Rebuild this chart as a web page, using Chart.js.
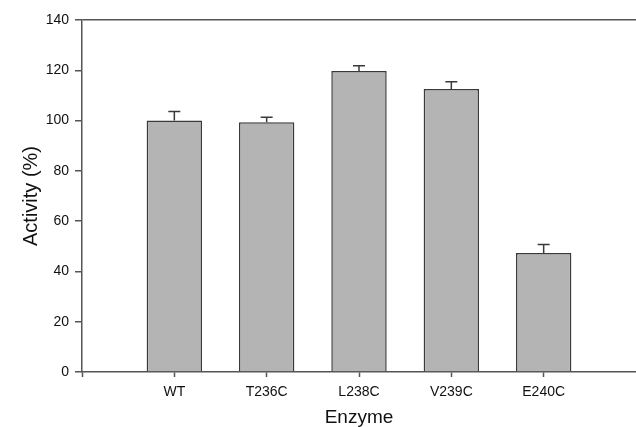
<!DOCTYPE html>
<html>
<head>
<meta charset="utf-8">
<script src="https://cdn.jsdelivr.net/npm/chart.js@4"></script>
<style>
    body { margin: 0; background: #fff; }
    #wrap { width: 636px; height: 427px; position: relative; }
</style>
</head>
<body>
<div id="wrap"><canvas id="activityChart"></canvas></div>
<script>
// Enzyme activity values
const enzymes = ['WT', 'T236C', 'L238C', 'V239C', 'E240C'];
const activity = [100, 99.3, 119.7, 112.6, 47.3];
const activityErr = [3.6, 2.0, 2.1, 2.8, 3.4];
const yTicks = [0, 20, 40, 60, 80, 100, 120, 140];

// empty slot either side so the bars sit one step in from the frame
const labels = [''].concat(enzymes, ['']);
const values = [null].concat(activity, [null]);
const errors = [null].concat(activityErr, [null]);

const axisColor = '#555';
const fontFamily = '"Liberation Sans", Arial, sans-serif';

// simple upper error bars, drawn through the chart's scales
const errorBars = {
    id: 'errorBars',
    afterDatasetsDraw(chart) {
        const ctx = chart.ctx;
        const xs = chart.scales.x;
        const ys = chart.scales.y;
        ctx.save();
        ctx.strokeStyle = '#3a3a3a';
        ctx.lineWidth = 1.5;
        values.forEach((v, i) => {
            if (v === null) return;
            const x = xs.getPixelForValue(i);
            const yBar = ys.getPixelForValue(v);
            const yTop = ys.getPixelForValue(v + errors[i]);
            ctx.beginPath();
            ctx.moveTo(x, yBar);
            ctx.lineTo(x, yTop);
            ctx.moveTo(x - 6, yTop);
            ctx.lineTo(x + 6, yTop);
            ctx.stroke();
        });
        ctx.restore();
    }
};

new Chart(document.getElementById('activityChart').getContext('2d'), {
    type: 'bar',
    data: {
        labels: labels,
        datasets: [{
            label: 'Activity',
            data: values,
            backgroundColor: '#b4b4b4',
            borderColor: '#3a3a3a',
            borderWidth: 1.5,
            categoryPercentage: 1,
            barPercentage: 0.6
        }]
    },
    options: {
        responsive: true,
        maintainAspectRatio: false,
        animation: false,
        layout: { padding: { top: 20, right: 0, left: 0, bottom: 0 } },
        plugins: {
            legend: { display: false },
            tooltip: { enabled: false }
        },
        scales: {
            x: {
                type: 'category',
                offset: false,
                afterFit(scale) {
                    scale.height = 55;
                    scale.paddingLeft = 0;
                    scale.paddingRight = 0;
                },
                border: { color: axisColor, width: 1.5 },
                grid: {
                    offset: false,
                    drawOnChartArea: false,
                    tickLength: 5,
                    // no tick mark on the far right end
                    tickColor: ctx => ctx.index === labels.length - 1 ? 'rgba(0,0,0,0)' : axisColor,
                    tickWidth: 1.5
                },
                ticks: {
                    color: '#111',
                    padding: 7,
                    maxRotation: 0,
                    autoSkip: false,
                    font: { family: fontFamily, size: 14 }
                },
                title: {
                    display: true,
                    text: 'Enzyme',
                    color: '#111',
                    padding: { top: 0, bottom: 0 },
                    font: { family: fontFamily, size: 19, lineHeight: 1 }
                }
            },
            y: {
                min: 0,
                max: 140,
                afterFit(scale) { scale.width = 82; },
                afterBuildTicks(scale) {
                    scale.ticks = yTicks.map(v => ({ value: v }));
                },
                border: { color: axisColor, width: 1.5 },
                grid: {
                    // only the 140 line, which forms the top of the frame
                    color: ctx => (ctx.tick && ctx.tick.value === 140) ? axisColor : 'rgba(0,0,0,0)',
                    lineWidth: 1.5,
                    tickLength: 7,
                    tickColor: axisColor,
                    tickWidth: 1.5
                },
                ticks: {
                    color: '#111',
                    padding: 6,
                    font: { family: fontFamily, size: 14 }
                },
                title: {
                    display: true,
                    text: 'Activity (%)',
                    color: '#111',
                    padding: { top: 21, bottom: 0 },
                    font: { family: fontFamily, size: 20, lineHeight: 1 }
                }
            }
        }
    },
    plugins: [errorBars]
});
</script>
</body>
</html>
